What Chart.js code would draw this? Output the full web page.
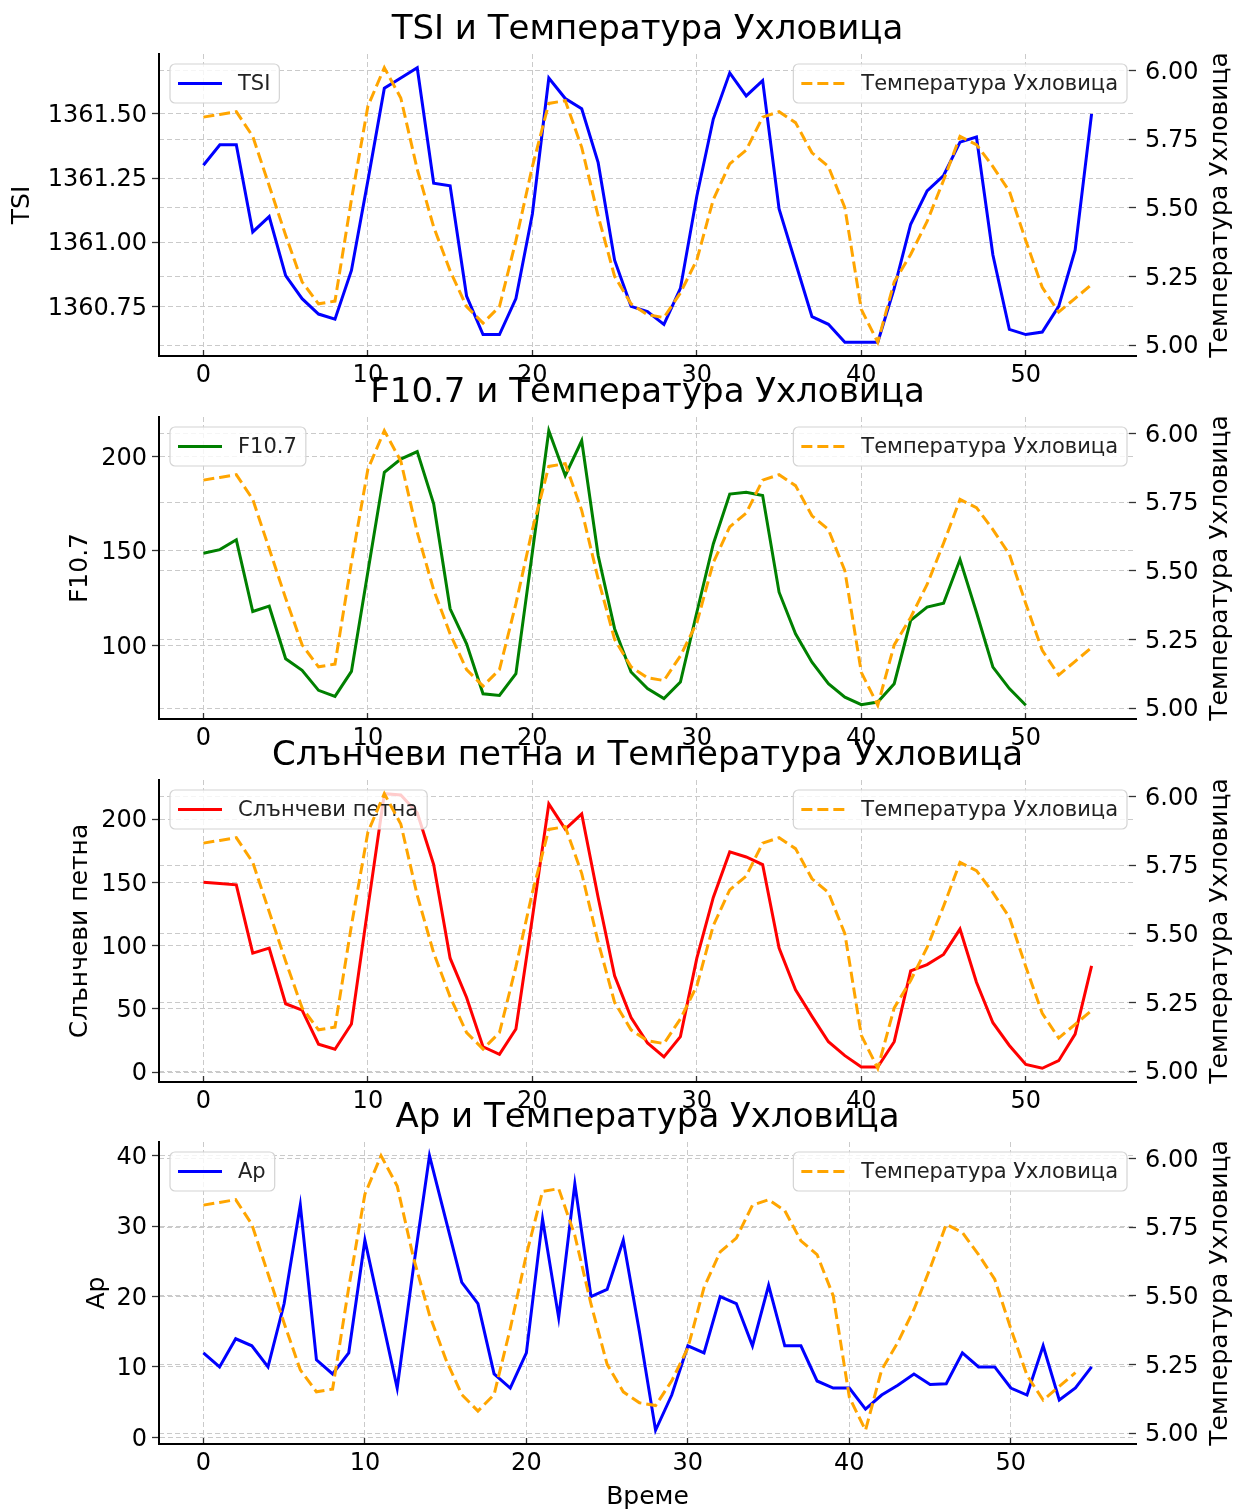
<!DOCTYPE html>
<html lang="bg">
<head>
<meta charset="utf-8">
<title>Слънчева активност и температура Ухловица</title>
<script src="https://cdn.jsdelivr.net/npm/chart.js@4.4.1/dist/chart.umd.min.js"></script>
<style>
  html, body { margin: 0; padding: 0; background: #fff; overflow: hidden; }
  #wrap { position: relative; width: 1235px; height: 1511px; }
  canvas { position: absolute; left: 0; }
</style>
</head>
<body>
<div id="wrap">
  <canvas id="c-tsi" width="1235" height="406" style="top:0"></canvas>
  <canvas id="c-f107" width="1235" height="406" style="top:363px"></canvas>
  <canvas id="c-spots" width="1235" height="406" style="top:726px"></canvas>
  <canvas id="c-ap" width="1235" height="424" style="top:1088px"></canvas>
</div>
<script>
// Температура Ухловица, one value per time step (0..54)
const temperature = [
  5.83, 5.84, 5.85, 5.76, 5.58, 5.40, 5.23, 5.15, 5.16, 5.53,
  5.87, 6.01, 5.90, 5.64, 5.43, 5.27, 5.14, 5.08, 5.14, 5.38,
  5.65, 5.88, 5.89, 5.72, 5.47, 5.25, 5.15, 5.11, 5.10, 5.19,
  5.31, 5.53, 5.66, 5.71, 5.83, 5.85, 5.81, 5.70, 5.65, 5.50,
  5.13, 5.01, 5.23, 5.33, 5.45, 5.60, 5.76, 5.73, 5.65, 5.56,
  5.38, 5.21, 5.12, 5.17, 5.22
];

const tsi = [
  1361.30, 1361.38, 1361.38, 1361.04, 1361.10, 1360.87, 1360.78, 1360.72, 1360.70, 1360.89,
  1361.24, 1361.60, 1361.64, 1361.68, 1361.23, 1361.22, 1360.79, 1360.64, 1360.64, 1360.78,
  1361.11, 1361.64, 1361.56, 1361.52, 1361.31, 1360.93, 1360.75, 1360.73, 1360.68, 1360.82,
  1361.18, 1361.48, 1361.66, 1361.57, 1361.63, 1361.13, 1360.92, 1360.71, 1360.68, 1360.61,
  1360.61, 1360.61, 1360.82, 1361.07, 1361.20, 1361.26, 1361.39, 1361.41, 1360.95, 1360.66,
  1360.64, 1360.65, 1360.75, 1360.97, 1361.50
];

const f107 = [
  148.8, 150.7, 155.9, 118.0, 120.8, 93.0, 86.9, 76.3, 73.1, 86.3,
  139.0, 191.6, 198.6, 202.6, 174.9, 119.4, 100.9, 74.5, 73.6, 85.1,
  149.3, 213.6, 189.8, 208.3, 147.6, 108.9, 86.0, 77.2, 71.9, 80.7,
  117.6, 153.7, 180.1, 181.0, 179.3, 128.2, 106.2, 91.2, 79.8, 72.7,
  68.7, 70.1, 79.8, 113.3, 120.3, 122.4, 145.5, 117.6, 88.6, 77.2,
  68.4
];

const sunspots = [
  150, 149, 148, 94, 98, 54, 49, 22, 18, 38,
  130, 220, 219, 205, 164, 90, 59, 20, 14, 34,
  122, 212, 192, 204, 138, 76, 43, 23, 12, 28,
  90, 138, 174, 170, 164, 98, 65, 44, 24, 13,
  4, 4, 24, 80, 85, 93, 113, 71, 39, 21,
  6, 3, 9, 30, 84
];

const ap = [
  12, 10, 14, 13, 10, 19, 33, 11, 9, 12,
  28, 17.5, 7, 24, 40, 31, 22, 19, 9, 7,
  12, 31, 17, 36, 20, 21, 28, 15, 1, 6,
  13, 12, 20, 19, 13, 21.6, 13, 13, 8, 7,
  7, 4, 6, 7.4, 9, 7.5, 7.6, 12, 10, 10,
  7, 6, 13, 5.3, 7, 10
];

// tick values for each axis
const timeTicks = [0, 10, 20, 30, 40, 50];
const tempTicks = [5.00, 5.25, 5.50, 5.75, 6.00];
const tsiTicks = [1360.75, 1361.00, 1361.25, 1361.50];
const f107Ticks = [100, 150, 200];
const spotTicks = [0, 50, 100, 150, 200];
const apTicks = [0, 10, 20, 30, 40];

const TEMP_LABEL = 'Температура Ухловица';
const FONT = 'DejaVu Sans';
const GRID = '#cacaca';
const TITLE_SPACE = 54; // room above the plot area for the panel title

Chart.defaults.font.family = FONT;
Chart.defaults.color = '#000';
Chart.defaults.animation = false;

// axis limits with a 5% margin around the data, like matplotlib autoscale
function padded(values) {
  const lo = Math.min(...values), hi = Math.max(...values);
  const m = (hi - lo) * 0.05;
  return { min: lo - m, max: hi + m };
}

function points(values) {
  return values.map((v, i) => ({ x: i, y: v }));
}

function fixedTicks(list) {
  return scale => { scale.ticks = list.map(v => ({ value: v })); };
}

// legend box in the matplotlib look
function drawLegend(ctx, ds, x, y, alignRight) {
  ctx.save();
  ctx.font = '21px "' + FONT + '"';
  const tw = ctx.measureText(ds.label).width;
  const w = 8 + 44 + 16 + tw + 9, h = 39;
  const left = alignRight ? x - w : x;
  ctx.beginPath();
  ctx.roundRect(left, y, w, h, 5);
  ctx.fillStyle = 'rgba(255,255,255,0.8)';
  ctx.fill();
  ctx.strokeStyle = '#d4d4d4';
  ctx.lineWidth = 1.2;
  ctx.stroke();
  ctx.beginPath();
  ctx.setLineDash(ds.borderDash || []);
  ctx.strokeStyle = ds.borderColor;
  ctx.lineWidth = ds.borderWidth;
  ctx.moveTo(left + 8, y + h / 2);
  ctx.lineTo(left + 52, y + h / 2);
  ctx.stroke();
  ctx.setLineDash([]);
  ctx.fillStyle = '#222';
  ctx.textBaseline = 'middle';
  ctx.fillText(ds.label, left + 68, y + h / 2 + 1);
  ctx.restore();
}

const twinLegends = {
  id: 'twinLegends',
  // left legend goes under the temperature line, as with twinx axes
  afterDatasetDraw(chart, args) {
    if (args.index !== 0) return;
    const a = chart.chartArea;
    drawLegend(chart.ctx, chart.data.datasets[0], a.left + 11, a.top + 10, false);
  },
  afterDatasetsDraw(chart) {
    const a = chart.chartArea;
    drawLegend(chart.ctx, chart.data.datasets[1], a.right - 9, a.top + 10, true);
  },
  afterDraw(chart, args, opts) {
    const a = chart.chartArea;
    const ctx = chart.ctx;
    ctx.save();
    ctx.fillStyle = '#000';
    ctx.textAlign = 'center';
    ctx.textBaseline = 'middle';
    // panel title, centred over the plot area
    ctx.font = '34px "' + FONT + '"';
    ctx.fillText(opts.title, (a.left + a.right) / 2, 30.4);
    // right axis title, reading bottom to top
    ctx.translate(1220, (a.top + a.bottom) / 2);
    ctx.rotate(-Math.PI / 2);
    ctx.font = '25px "' + FONT + '"';
    ctx.fillText(TEMP_LABEL, 0, 0);
    ctx.restore();
  }
};

function makePanel(id, p) {
  const xr = padded([0, Math.max(p.values.length, temperature.length) - 1]);
  const yr = padded(p.values);
  const tr = padded(temperature);
  const canvas = document.getElementById(id);

  return new Chart(canvas, {
    type: 'line',
    data: {
      datasets: [
        {
          label: p.label,
          data: points(p.values),
          borderColor: p.color,
          borderWidth: 3,
          pointRadius: 0,
          tension: 0,
          yAxisID: 'y',
          order: 1
        },
        {
          label: TEMP_LABEL,
          data: points(temperature),
          borderColor: '#ffa500',
          borderWidth: 3,
          borderDash: [11, 5],
          pointRadius: 0,
          tension: 0,
          yAxisID: 'y2',
          order: 0
        }
      ]
    },
    options: {
      responsive: false,
      layout: { padding: { left: 0, right: 0, top: TITLE_SPACE, bottom: 0 }, autoPadding: false },
      plugins: {
        legend: { display: false },
        tooltip: { enabled: false },
        title: { display: false },
        twinLegends: { title: p.title }
      },
      scales: {
        x: {
          type: 'linear',
          min: xr.min,
          max: xr.max,
          afterBuildTicks: fixedTicks(timeTicks),
          afterFit: s => { s.height = canvas.height - TITLE_SPACE - 302; },
          ticks: { font: { size: 24 }, color: '#000', padding: 11, maxRotation: 0, autoSkip: false },
          grid: { color: GRID, lineWidth: 1, tickLength: -6, tickColor: '#333', tickWidth: 1.3 },
          border: { display: true, color: '#000', width: 2, dash: [5, 3] },
          title: p.xTitle
            ? { display: true, text: p.xTitle, font: { size: 25 }, color: '#000', padding: { top: 0, bottom: 0 } }
            : { display: false }
        },
        y: {
          position: 'left',
          min: yr.min,
          max: yr.max,
          afterBuildTicks: fixedTicks(p.ticks),
          afterFit: s => { s.width = 159; },
          ticks: { font: { size: 24 }, color: '#000', padding: 5, labelOffset: 2, callback: p.fmt },
          grid: { color: GRID, lineWidth: 1, tickLength: 7, tickColor: '#333', tickWidth: 1.3 },
          border: { display: true, color: '#000', width: 2, dash: [5, 3] },
          title: { display: true, text: p.label, font: { size: 25 }, color: '#000', padding: { top: p.labelPad } }
        },
        y2: {
          position: 'right',
          min: tr.min,
          max: tr.max,
          afterBuildTicks: fixedTicks(tempTicks),
          afterFit: s => { s.width = 99; },
          ticks: { font: { size: 24 }, color: '#000', padding: 16, labelOffset: 2, callback: v => v.toFixed(2) },
          grid: { color: GRID, lineWidth: 1, tickLength: -7, tickColor: '#333', tickWidth: 1.3, drawOnChartArea: true },
          border: { display: false, dash: [5, 3] },
          title: { display: false }
        }
      }
    },
    plugins: [twinLegends]
  });
}

makePanel('c-tsi', {
  title: 'TSI и Температура Ухловица',
  label: 'TSI',
  values: tsi,
  color: '#0000ff',
  ticks: tsiTicks,
  fmt: v => v.toFixed(2),
  labelPad: 7
});

makePanel('c-f107', {
  title: 'F10.7 и Температура Ухловица',
  label: 'F10.7',
  values: f107,
  color: '#008000',
  ticks: f107Ticks,
  fmt: v => String(v),
  labelPad: 65
});

makePanel('c-spots', {
  title: 'Слънчеви петна и Температура Ухловица',
  label: 'Слънчеви петна',
  values: sunspots,
  color: '#ff0000',
  ticks: spotTicks,
  fmt: v => String(v),
  labelPad: 65
});

makePanel('c-ap', {
  title: 'Ap и Температура Ухловица',
  label: 'Ap',
  values: ap,
  color: '#0000ff',
  ticks: apTicks,
  fmt: v => String(v),
  labelPad: 82,
  xTitle: 'Време'
});
</script>
</body>
</html>
